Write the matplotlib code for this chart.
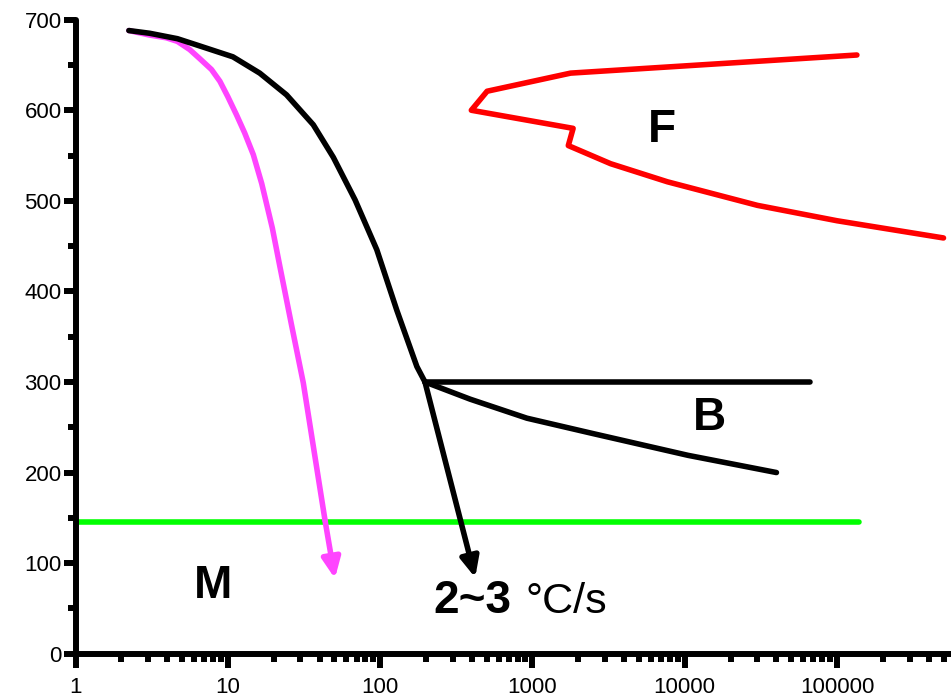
import numpy as np
import matplotlib
matplotlib.use('Agg')
import matplotlib.pyplot as plt
from matplotlib.ticker import LogLocator, NullFormatter, FixedLocator, MultipleLocator

plt.rcParams['font.family'] = ['Liberation Sans', 'DejaVu Sans']

# cooling curve 2~3 C/s (black)
cool_x = [2.24, 3.07, 4.67, 6.54, 10.8, 16.2, 24.3, 36.4, 49.3, 68.5, 95.1, 128.8, 174.3, 197]
cool_y = [688, 685, 679, 671, 659, 641, 617, 584, 548, 501, 446, 379, 317, 300]
cool_tip = (421, 84)

# fast cooling curve (magenta)
fast_x = [2.24, 3.07, 3.95, 4.67, 5.62, 6.54, 7.81, 8.87, 10.0, 11.4, 12.9, 14.7, 16.7,
          19.6, 22.0, 26.2, 31.3, 43.5]
fast_y = [688, 683, 680, 676, 667, 657, 645, 632, 615, 595, 575, 551, 519,
          470, 427, 363, 299, 147]
fast_tip = (50.5, 83)

# bainite region
bs_x = [197, 66500]
bs_y = [300, 300]
bf_x = [197, 390, 920, 2500, 10500, 40000]
bf_y = [300, 281, 260, 243, 219, 200]

# ferrite nose (red)
f_x = [135000, 1780, 504, 397, 1850, 1720, 3260, 7700, 30000, 100000, 500000]
f_y = [661, 641, 621, 600, 580, 561, 541, 521, 495, 478, 459]

# Ms line
ms_x = [1, 140000]
ms_y = [145, 145]

fig = plt.figure(figsize=(9.51, 6.98), dpi=100)
ax = fig.add_axes([0.0794, 0.0635, 0.9206, 0.9083])

lw = 4.0
ax.plot(ms_x, ms_y, color='#00ff00', lw=lw, solid_capstyle='round')
ax.plot(f_x, f_y, color='#ff0000', lw=lw, solid_capstyle='round', solid_joinstyle='round')
ax.plot(bs_x, bs_y, color='black', lw=lw, solid_capstyle='round')
ax.plot(bf_x, bf_y, color='black', lw=lw, solid_capstyle='round', solid_joinstyle='round')
ax.plot(fast_x, fast_y, color='#ff44ff', lw=lw, solid_capstyle='round', solid_joinstyle='round')
ax.plot(cool_x, cool_y, color='black', lw=lw, solid_capstyle='round', solid_joinstyle='round')

ax.annotate('', xy=cool_tip, xytext=(cool_x[-1], cool_y[-1]),
            arrowprops=dict(arrowstyle='-|>,head_length=1.2,head_width=0.55',
                            color='black', lw=lw, shrinkA=0, shrinkB=0))
ax.annotate('', xy=fast_tip, xytext=(fast_x[-1], fast_y[-1]),
            arrowprops=dict(arrowstyle='-|>,head_length=1.2,head_width=0.55',
                            color='#ff44ff', lw=lw, shrinkA=0, shrinkB=0))

ax.text(7030, 578, 'F', fontsize=33, fontweight='bold', ha='center', va='center')
ax.text(14600, 260, 'B', fontsize=33, fontweight='bold', ha='center', va='center')
ax.text(7.96, 75, 'M', fontsize=33, fontweight='bold', ha='center', va='center')
ax.text(225, 45, '2~3', fontsize=33, fontweight='bold', ha='left', va='baseline')
ax.text(900, 45, '\u00b0C/s', fontsize=31, ha='left', va='baseline')

ax.set_xscale('log')
ax.set_xlim(1, 5.6e5)
ax.set_ylim(0, 700)

ax.xaxis.set_major_locator(FixedLocator([1, 10, 100, 1000, 10000, 100000]))
ax.set_xticklabels(['1', '10', '100', '1000', '10000', '100000'])
ax.xaxis.set_minor_locator(LogLocator(base=10, subs=np.arange(2, 10), numticks=20))
ax.xaxis.set_minor_formatter(NullFormatter())
ax.yaxis.set_major_locator(MultipleLocator(100))
ax.yaxis.set_minor_locator(MultipleLocator(50))

for s in ['top', 'right']:
    ax.spines[s].set_visible(False)
for s in ['left', 'bottom']:
    ax.spines[s].set_linewidth(4.3)
    ax.spines[s].set_capstyle('round')

ax.tick_params(axis='x', which='major', direction='out', length=10, width=4.3, pad=7, labelsize=16)
ax.tick_params(axis='x', which='minor', direction='out', length=5.5, width=4.3)
ax.tick_params(axis='y', which='major', direction='out', length=8.5, width=4.3, pad=1.5, labelsize=16)
ax.tick_params(axis='y', which='minor', direction='out', length=6, width=4.3)

fig.savefig('out.png', dpi=100)
